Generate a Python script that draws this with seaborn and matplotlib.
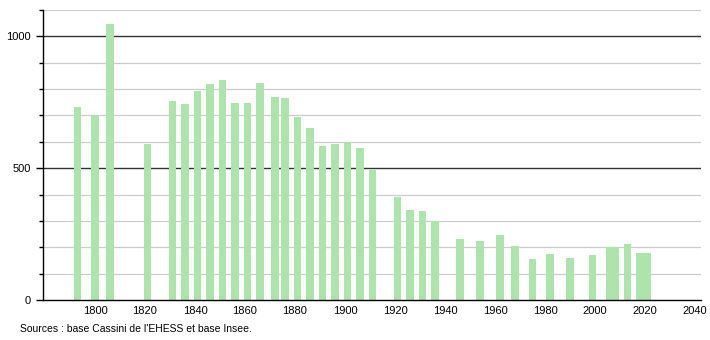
import matplotlib
matplotlib.use("Agg")
import matplotlib.pyplot as plt
import seaborn as sns
import pandas as pd

years = [1793, 1800, 1806, 1821, 1831, 1836, 1841, 1846, 1851, 1856, 1861, 1866,
         1872, 1876, 1881, 1886, 1891, 1896, 1901, 1906, 1911, 1921, 1926, 1931,
         1936, 1946, 1954, 1962, 1968, 1975, 1982, 1990, 1999, 2006, 2008, 2013,
         2018, 2021]
population = [733, 700, 1047, 590, 754, 742, 791, 818, 834, 746, 749, 825,
              769, 765, 693, 652, 586, 590, 600, 575, 495, 391, 343, 339,
              298, 231, 225, 247, 206, 156, 173, 160, 172, 200, 200, 213,
              178, 180]
x_ticks = [1800, 1820, 1840, 1860, 1880, 1900, 1920, 1940, 1960, 1980, 2000, 2020, 2040]
y_major = [0, 500, 1000]
source_text = "Sources : base Cassini de l'EHESS et base Insee."

df = pd.DataFrame({"year": years, "pop": population})

sns.set_theme(style="white")
plt.rcParams['font.family'] = ['Liberation Sans', 'DejaVu Sans']
plt.rcParams['text.color'] = 'black'
plt.rcParams['xtick.color'] = 'black'
plt.rcParams['ytick.color'] = 'black'

fig = plt.figure(figsize=(7.1, 3.4), dpi=100)
ax = fig.add_axes([43/710, 1-300/340, (701-43)/710, (300-10)/340])

# grid lines
for v in range(100, 1101, 100):
    if v % 500 == 0:
        ax.axhline(v, color="#333333", lw=1.0, zorder=1)
    else:
        ax.axhline(v, color="#cccccc", lw=0.9, zorder=1)

sns.barplot(data=df, x="year", y="pop", native_scale=True, width=1.6,
            color="#aee3ae", saturation=1, edgecolor="none", ax=ax, zorder=2,
            errorbar=None)

ax.set_xlim(1779.2, 2042.4)
ax.set_ylim(0, 1100)
ax.set_xticks(x_ticks)
ax.set_xticklabels([str(t) for t in x_ticks])
ax.set_yticks(y_major)
ax.set_yticklabels([str(t) for t in y_major])
ax.set_yticks(range(0, 1101, 100), minor=True)
ax.tick_params(axis="y", which="major", direction="out", length=5, width=1,
               color="black", labelsize=8, pad=4, left=True, labelcolor="black")
ax.tick_params(axis="y", which="minor", direction="out", length=3, width=1,
               color="black", left=True)
ax.tick_params(axis="x", length=0, labelsize=8, pad=4, labelcolor="black")
ax.set_xlabel("")
ax.set_ylabel("")
for s in ["top", "right"]:
    ax.spines[s].set_visible(False)
for s in ["left", "bottom"]:
    ax.spines[s].set_color("black")
    ax.spines[s].set_linewidth(1.0)
    ax.spines[s].set_zorder(3)

fig.text(20/710, 1-329/340, source_text, fontsize=7.5, ha="left", va="center",
         color="black")

fig.savefig("out.png", dpi=100)
